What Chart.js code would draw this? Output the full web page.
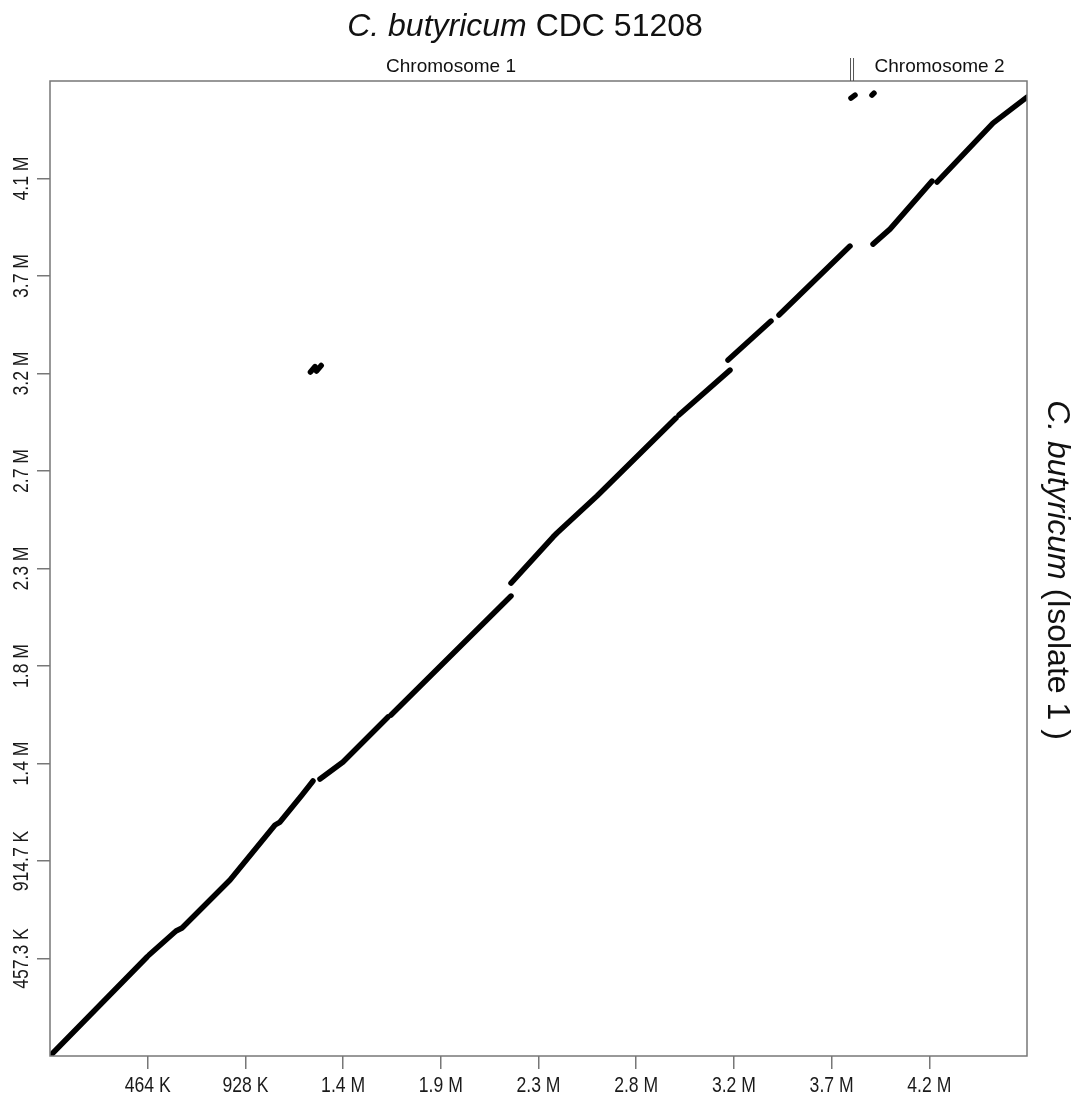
<!DOCTYPE html>
<html>
<head>
<meta charset="utf-8">
<title>C. butyricum dot plot</title>
<script src="https://cdn.jsdelivr.net/npm/chart.js@4.4.1/dist/chart.umd.min.js"></script>
<style>
  html, body { margin: 0; padding: 0; background: #fff; }
  #wrap { width: 1085px; height: 1106px; }
</style>
</head>
<body>
<div id="wrap"><canvas id="dotplot" width="1085" height="1106"></canvas></div>
<script>
// alignment segments: reference position (x) vs isolate position (y), null = break
const refPos = [
  0, 460700, null,
  470200, 598400, 626900, 854900, 1068600, 1092300, 1196800, 1249000, null,
  1282300, 1391500, 1605200, null,
  1619500, 2189400, null,
  2189400, 2388800, 2407800, 2597800, 2973000, null,
  2987200, 3229500, null,
  3220000, 3424200, null,
  3462200, 3799400, null,
  3908600, 3989300, 4188800, null,
  4212500, 4478500, 4640000, null,
  1237000, 1259000, null,
  1266000, 1288000, null,
  3804100, 3823100, null,
  3903800, 3913300
];
const isoPos = [
  0, 464300, null,
  473700, 586300, 600400, 825500, 1083500, 1097500, 1224200, 1289800, null,
  1299200, 1378900, 1590000, null,
  1599400, 2157500, null,
  2218500, 2434300, 2453000, 2626600, 2992400, null,
  3006500, 3217500, null,
  3264400, 3447400, null,
  3475500, 3799100, null,
  3808500, 3878900, 4104000, null,
  4099300, 4376100, 4498000, null,
  3208000, 3234000, null,
  3213000, 3239000, null,
  4493300, 4507400, null,
  4507400, 4516800
];

const xMax = 4640000;
const yMax = 4573500;
const xTicks = [464000, 928000, 1392000, 1856000, 2320000, 2784000, 3248000, 3712000, 4176000];
const xTickLabels = ['464 K', '928 K', '1.4 M', '1.9 M', '2.3 M', '2.8 M', '3.2 M', '3.7 M', '4.2 M'];
const yTicks = [457350, 914700, 1372050, 1829400, 2286750, 2744100, 3201450, 3658800, 4116150];
const yTickLabels = ['457.3 K', '914.7 K', '1.4 M', '1.8 M', '2.3 M', '2.7 M', '3.2 M', '3.7 M', '4.1 M'];
const chromBoundary = 3809000;

const mainFont = "'Liberation Sans', Arial, sans-serif";

// split the position lists into one dataset per segment
function splitSegments(xs, ys) {
  const segs = [];
  let cur = [];
  xs.forEach((x, i) => {
    if (x === null) {
      if (cur.length) segs.push(cur);
      cur = [];
    } else {
      cur.push({ x: x, y: ys[i] });
    }
  });
  if (cur.length) segs.push(cur);
  return segs;
}

const datasets = splitSegments(refPos, isoPos).map(seg => ({
  data: seg,
  showLine: true,
  borderColor: '#000',
  backgroundColor: '#000',
  borderWidth: 5.5,
  borderCapStyle: 'round',
  borderJoinStyle: 'round',
  pointRadius: 0,
  tension: 0
}));

// narrow tick text: squeeze Liberation Sans along the text direction
function narrowText(ctx, text, x, y, angle) {
  ctx.save();
  ctx.translate(x, y);
  ctx.rotate(angle);
  ctx.scale(0.8, 1);
  ctx.fillText(text, 0, 0);
  ctx.restore();
}

const decorations = {
  id: 'decorations',
  afterDraw(chart) {
    const ctx = chart.ctx;
    const area = chart.chartArea;
    const xs = chart.scales.x;
    const ys = chart.scales.y;
    ctx.save();

    // frame
    ctx.strokeStyle = '#777';
    ctx.lineWidth = 1.5;
    ctx.strokeRect(area.left, area.top, area.right - area.left, area.bottom - area.top);

    // tick labels
    ctx.fillStyle = '#1a1a1a';
    ctx.font = '22px ' + mainFont;
    ctx.textAlign = 'center';
    ctx.textBaseline = 'middle';
    xTicks.forEach((v, i) => narrowText(ctx, xTickLabels[i], xs.getPixelForValue(v), 1086, 0));
    yTicks.forEach((v, i) => narrowText(ctx, yTickLabels[i], 22, ys.getPixelForValue(v), -Math.PI / 2));

    // chromosome boundary and labels
    const bx = xs.getPixelForValue(chromBoundary);
    ctx.strokeStyle = '#555';
    ctx.lineWidth = 1;
    ctx.beginPath();
    ctx.moveTo(bx - 1.5, 58); ctx.lineTo(bx - 1.5, area.top);
    ctx.moveTo(bx + 1.5, 58); ctx.lineTo(bx + 1.5, area.top);
    ctx.stroke();
    ctx.fillStyle = '#111';
    ctx.font = '19px ' + mainFont;
    ctx.fillText('Chromosome 1', (area.left + bx) / 2, 67);
    ctx.fillText('Chromosome 2', (bx + area.right) / 2, 67);

    // title with italic species name
    const parts = [['italic 32px ' + mainFont, 'C. butyricum'], ['32px ' + mainFont, ' CDC 51208']];
    let total = 0;
    parts.forEach(p => { ctx.font = p[0]; total += ctx.measureText(p[1]).width; });
    let tx = 525 - total / 2;
    ctx.textAlign = 'left';
    parts.forEach(p => { ctx.font = p[0]; ctx.fillText(p[1], tx, 27); tx += ctx.measureText(p[1]).width; });

    // right side label, reading top to bottom
    const rparts = [['italic 32px ' + mainFont, 'C. butyricum'], ['32px ' + mainFont, ' (Isolate 1 )']];
    total = 0;
    rparts.forEach(p => { ctx.font = p[0]; total += ctx.measureText(p[1]).width; });
    ctx.translate(1057, 570);
    ctx.rotate(Math.PI / 2);
    tx = -total / 2;
    rparts.forEach(p => { ctx.font = p[0]; ctx.fillText(p[1], tx, 0); tx += ctx.measureText(p[1]).width; });

    ctx.restore();
  }
};

const ctx = document.getElementById('dotplot').getContext('2d');
new Chart(ctx, {
  type: 'scatter',
  data: { datasets: datasets },
  options: {
    responsive: false,
    animation: false,
    events: [],
    layout: { padding: { top: 81, right: 58, left: 0, bottom: 0 } },
    plugins: { legend: { display: false }, tooltip: { enabled: false } },
    scales: {
      x: {
        type: 'linear',
        min: 0,
        max: xMax,
        afterBuildTicks: s => { s.ticks = xTicks.map(v => ({ value: v })); },
        afterFit: s => { s.height = 50; },
        ticks: { display: false },
        grid: { drawOnChartArea: false, tickLength: 13, color: '#777', lineWidth: 1.5 },
        border: { display: false }
      },
      y: {
        type: 'linear',
        min: 0,
        max: yMax,
        afterBuildTicks: s => { s.ticks = yTicks.map(v => ({ value: v })); },
        afterFit: s => { s.width = 50; },
        ticks: { display: false },
        grid: { drawOnChartArea: false, tickLength: 13, color: '#777', lineWidth: 1.5 },
        border: { display: false }
      }
    }
  },
  plugins: [decorations]
});
</script>
</body>
</html>
